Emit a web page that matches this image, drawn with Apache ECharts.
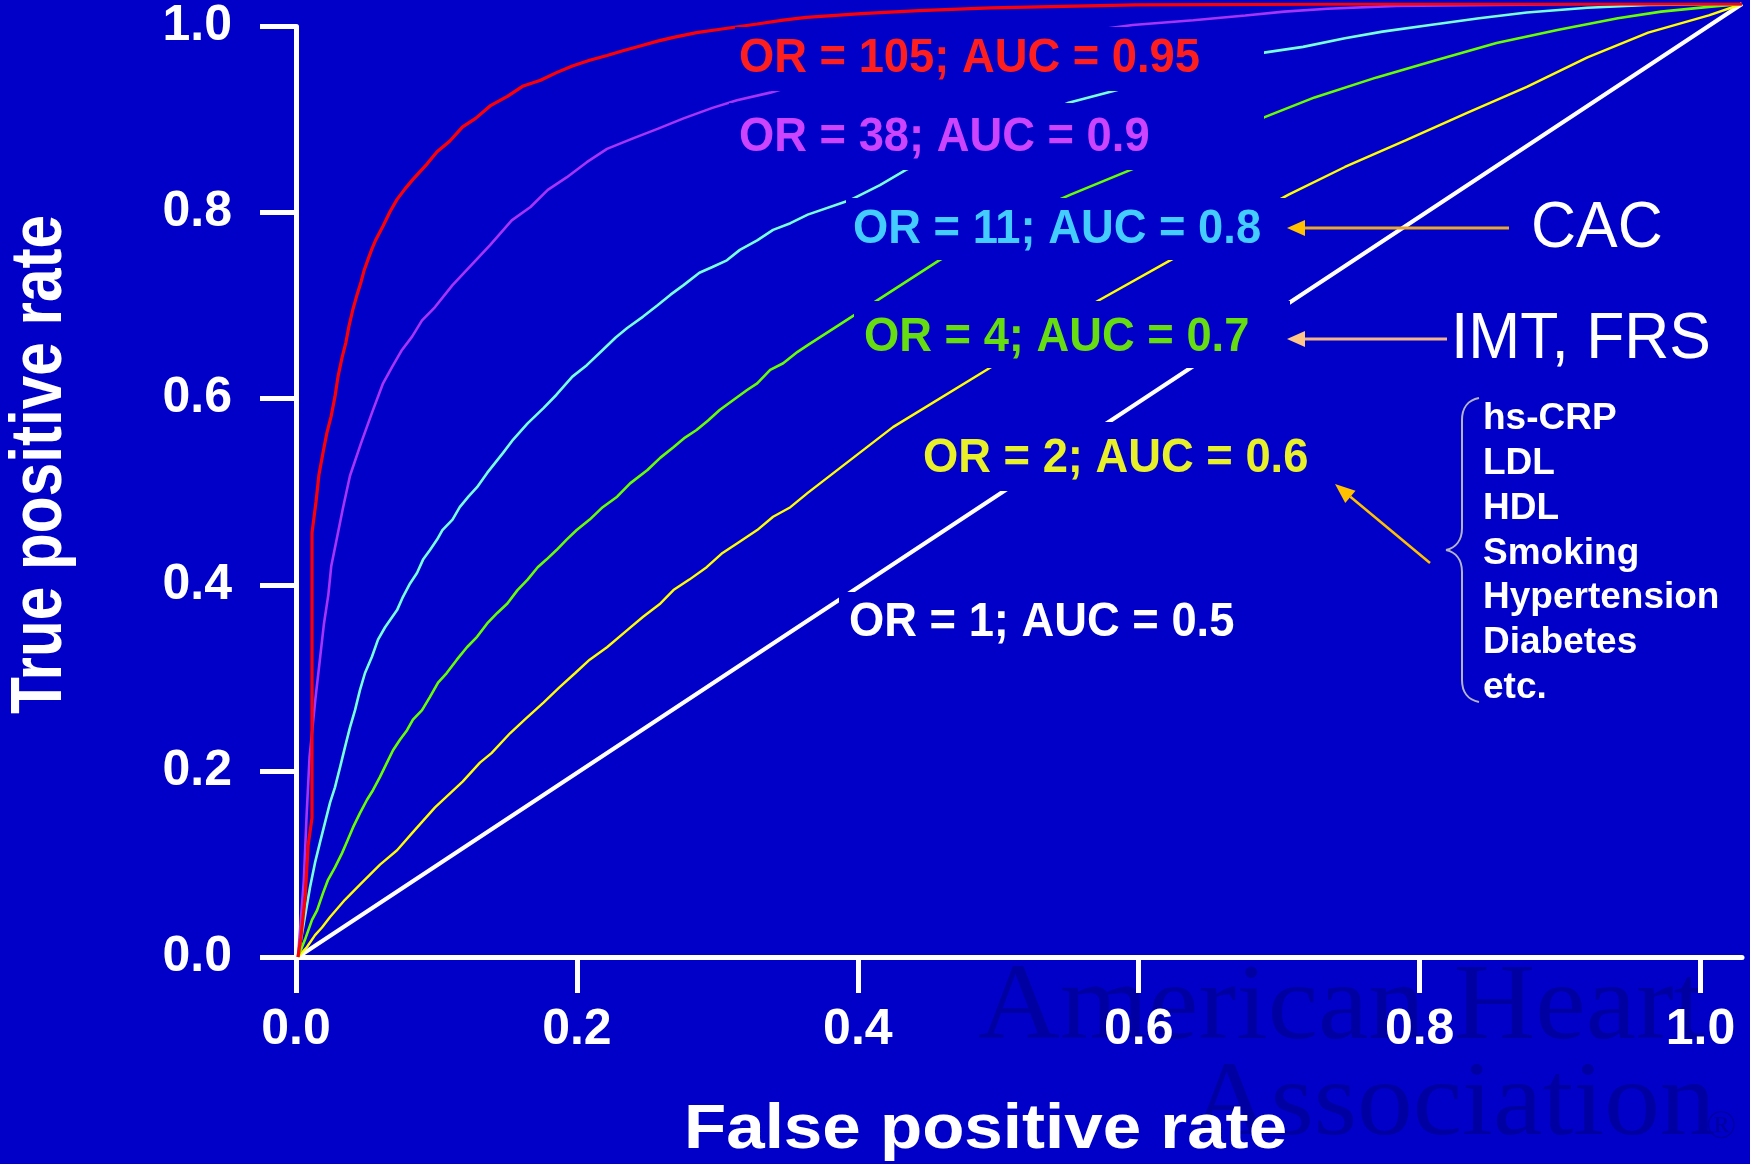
<!DOCTYPE html>
<html>
<head>
<meta charset="utf-8">
<script src="https://cdn.jsdelivr.net/npm/echarts@6/dist/echarts.min.js"></script>
<style>
  html, body { margin: 0; padding: 0; background: #0000C8; }
  #chart { width: 1750px; height: 1164px; }
</style>
</head>
<body>
<div id="chart"></div>
<script>
// Axis ticks (both axes)
const tickValues = [0, 0.2, 0.4, 0.6, 0.8, 1.0];

// ROC curves: [false positive rate, true positive rate]
const rocOR105 = [[0,0],[0.002,0.02],[0.005,0.063],[0.007,0.117],[0.0097,0.146],[0.0097,0.445],[0.0125,0.478],[0.0145,0.506],[0.0173,0.529],[0.020,0.550],[0.0229,0.567],[0.0256,0.588],[0.0277,0.609],[0.0305,0.629],[0.0332,0.645],[0.0353,0.662],[0.0381,0.680],[0.0409,0.695],[0.0436,0.708],[0.0457,0.720],[0.0485,0.732],[0.0512,0.743],[0.054,0.753],[0.0589,0.767],[0.0637,0.782],[0.0686,0.795],[0.0741,0.806],[0.0796,0.816],[0.0893,0.832],[0.0963,0.845],[0.105,0.856],[0.114,0.871],[0.123,0.880],[0.133,0.893],[0.145,0.903],[0.156,0.914],[0.168,0.920],[0.179,0.928],[0.190,0.935],[0.202,0.941],[0.214,0.946],[0.225,0.951],[0.237,0.956],[0.249,0.961],[0.260,0.965],[0.276,0.970],[0.290,0.973],[0.318,0.979],[0.336,0.983],[0.352,0.986],[0.39,0.990],[0.43,0.993],[0.48,0.996],[0.58,0.999],[0.75,1],[1,1]];

const rocOR38 = [[0,0],[0.002,0.04],[0.004,0.08],[0.006,0.15],[0.008,0.21],[0.012,0.27],[0.015,0.31],[0.018,0.35],[0.021,0.38],[0.023,0.41],[0.027,0.44],[0.031,0.47],[0.036,0.505],[0.0436,0.539],[0.0512,0.571],[0.0589,0.602],[0.0651,0.619],[0.072,0.637],[0.079,0.651],[0.0859,0.668],[0.0949,0.682],[0.107,0.705],[0.120,0.726],[0.133,0.747],[0.148,0.773],[0.161,0.787],[0.173,0.805],[0.186,0.818],[0.200,0.834],[0.214,0.848],[0.232,0.859],[0.249,0.869],[0.267,0.880],[0.287,0.891],[0.304,0.899],[0.327,0.907],[0.334,0.910],[0.40,0.935],[0.48,0.958],[0.578,0.978],[0.620,0.983],[0.656,0.988],[0.683,0.992],[0.713,0.995],[0.761,0.998],[0.90,1],[1,1]];

const rocOR11 = [[0,0],[0.0083,0.073],[0.0118,0.099],[0.0152,0.120],[0.0187,0.141],[0.0222,0.162],[0.0256,0.178],[0.0291,0.199],[0.0325,0.220],[0.036,0.241],[0.0395,0.259],[0.0429,0.280],[0.0464,0.298],[0.0512,0.315],[0.0554,0.333],[0.0603,0.346],[0.0686,0.364],[0.0727,0.378],[0.0776,0.392],[0.0824,0.403],[0.0866,0.417],[0.0914,0.427],[0.0963,0.438],[0.100,0.448],[0.107,0.459],[0.112,0.472],[0.118,0.483],[0.124,0.493],[0.131,0.508],[0.142,0.529],[0.149,0.543],[0.159,0.560],[0.170,0.576],[0.179,0.590],[0.190,0.609],[0.200,0.621],[0.211,0.637],[0.220,0.650],[0.228,0.660],[0.239,0.672],[0.249,0.684],[0.258,0.695],[0.267,0.705],[0.278,0.718],[0.287,0.724],[0.297,0.731],[0.306,0.742],[0.318,0.752],[0.329,0.763],[0.341,0.770],[0.353,0.779],[0.382,0.794],[0.403,0.810],[0.421,0.826],[0.48,0.865],[0.533,0.896],[0.568,0.910],[0.62,0.930],[0.669,0.949],[0.696,0.955],[0.725,0.964],[0.751,0.971],[0.784,0.978],[0.818,0.985],[0.851,0.991],[0.893,0.996],[0.935,0.999],[1,1]];

const rocOR4 = [[0,0],[0.0048,0.018],[0.0097,0.039],[0.0132,0.049],[0.0173,0.067],[0.0208,0.081],[0.0256,0.094],[0.0305,0.109],[0.0339,0.121],[0.0381,0.136],[0.0429,0.151],[0.0478,0.165],[0.0519,0.175],[0.0568,0.189],[0.0616,0.204],[0.0658,0.217],[0.0706,0.228],[0.0755,0.238],[0.0796,0.249],[0.0859,0.259],[0.0914,0.273],[0.097,0.288],[0.103,0.298],[0.110,0.312],[0.117,0.325],[0.124,0.336],[0.131,0.350],[0.138,0.361],[0.145,0.371],[0.152,0.385],[0.159,0.396],[0.166,0.409],[0.172,0.417],[0.179,0.427],[0.186,0.438],[0.193,0.448],[0.202,0.459],[0.211,0.472],[0.221,0.483],[0.230,0.497],[0.242,0.511],[0.251,0.524],[0.260,0.535],[0.268,0.545],[0.276,0.553],[0.284,0.563],[0.292,0.574],[0.301,0.584],[0.311,0.595],[0.318,0.602],[0.327,0.616],[0.336,0.623],[0.346,0.635],[0.353,0.642],[0.396,0.684],[0.444,0.731],[0.49,0.770],[0.535,0.800],[0.58,0.828],[0.63,0.860],[0.669,0.881],[0.704,0.902],[0.747,0.923],[0.788,0.941],[0.830,0.959],[0.873,0.973],[0.914,0.985],[0.944,0.992],[0.977,0.997],[1,1]];

const rocOR2 = [[0,0],[0.0062,0.0105],[0.0118,0.023],[0.0166,0.031],[0.0222,0.042],[0.0325,0.060],[0.0429,0.076],[0.0568,0.097],[0.0686,0.112],[0.0796,0.131],[0.0949,0.157],[0.114,0.184],[0.126,0.204],[0.134,0.214],[0.147,0.235],[0.157,0.249],[0.170,0.267],[0.181,0.283],[0.192,0.298],[0.202,0.312],[0.214,0.325],[0.228,0.343],[0.239,0.357],[0.251,0.371],[0.260,0.385],[0.271,0.396],[0.283,0.409],[0.294,0.424],[0.304,0.434],[0.318,0.448],[0.329,0.462],[0.341,0.472],[0.353,0.487],[0.412,0.556],[0.479,0.618],[0.52,0.655],[0.551,0.686],[0.604,0.731],[0.65,0.770],[0.686,0.800],[0.725,0.829],[0.767,0.857],[0.81,0.886],[0.851,0.913],[0.893,0.944],[0.935,0.970],[0.977,0.988],[1,1]];

const rocOR1 = [[0,0],[0.5,0.5],[1,1]];

// Curve captions
const curveLabels = ['OR = 105; AUC = 0.95', 'OR = 38; AUC = 0.9', 'OR = 11; AUC = 0.8', 'OR = 4; AUC = 0.7', 'OR = 2; AUC = 0.6', 'OR = 1; AUC = 0.5'];
const markerLabels = ['CAC', 'IMT, FRS'];
const riskFactors = ['hs-CRP', 'LDL', 'HDL', 'Smoking', 'Hypertension', 'Diabetes', 'etc.'];

const BG = '#0000C8';
const SANS = '"Liberation Sans", Arial, Helvetica, sans-serif';
const SERIF = '"Liberation Serif", "Times New Roman", serif';

const curveStyles = [
  { data: rocOR1,   color: '#FFFFFF', width: 4 },
  { data: rocOR2,   color: '#FFFF00', width: 2.4 },
  { data: rocOR4,   color: '#66FF00', width: 2.6 },
  { data: rocOR11,  color: '#77FFDD', width: 2.6 },
  { data: rocOR38,  color: '#A633F5', width: 2.6 },
  { data: rocOR105, color: '#FF0000', width: 3.2 }
];
const curveNames = curveLabels.slice().reverse();

// caption boxes: text position, colour and the backing box that masks the curves
const captionLayout = [
  { x: 739, y: 58,  color: '#FF1E1E', box: [735, 27, 529, 64] },
  { x: 739, y: 137, color: '#CC44FF', box: [729, 103, 535, 67] },
  { x: 853, y: 229, color: '#44CCFF', box: [846, 198, 439, 62] },
  { x: 864, y: 337, color: '#66DD11', box: [854, 301, 436, 67] },
  { x: 923, y: 458, color: '#E8F02A', box: [913, 422, 402, 69] },
  { x: 849, y: 622, color: '#FFFFFF', box: [839, 592, 405, 62] }
];

const graphics = [];

function label(text, x, y, font, fill, extra) {
  return Object.assign({ type: 'text', x: x, y: y, z: 70, silent: true,
    style: { text: text, font: font, fill: fill,
      textAlign: 'left', textVerticalAlign: 'middle', align: 'left', verticalAlign: 'middle' } }, extra || {});
}

// watermark
const WM = '#0000A2';
graphics.push(label('American Heart', 978, 1010, '108px ' + SERIF, WM, { scaleX: 1.05, z: -10 }));
graphics.push(label('Association', 1190, 1106, '106px ' + SERIF, WM, { scaleX: 1.05, z: -10 }));
graphics.push(label('®', 1706, 1127, '40px ' + SERIF, WM, { z: -10 }));

// curve captions with masking boxes
curveLabels.forEach((text, i) => {
  const L = captionLayout[i];
  graphics.push({ type: 'rect', z: 50, silent: true,
    shape: { x: L.box[0], y: L.box[1], width: L.box[2], height: L.box[3] },
    style: { fill: BG } });
  graphics.push(label(text, L.x, L.y, 'bold 49px ' + SANS, L.color, { scaleX: 0.925, z: 60 }));
});

// arrows
function arrow(x1, y1, x2, y2, lineColor, headColor, lw, headLen, headHalf) {
  const ang = Math.atan2(y2 - y1, x2 - x1);
  const bx = x2 - headLen * Math.cos(ang), by = y2 - headLen * Math.sin(ang);
  const px = -Math.sin(ang) * headHalf, py = Math.cos(ang) * headHalf;
  graphics.push({ type: 'line', z: 70, silent: true,
    shape: { x1: x1, y1: y1, x2: bx, y2: by },
    style: { stroke: lineColor, lineWidth: lw } });
  graphics.push({ type: 'polygon', z: 71, silent: true,
    shape: { points: [[x2, y2], [bx + px, by + py], [bx - px, by - py]] },
    style: { fill: headColor } });
}
arrow(1509, 228, 1287, 228, '#E8A830', '#FFC000', 3, 18, 8);
arrow(1447, 339, 1287, 339, '#F4B48A', '#FFC488', 3, 18, 8);
arrow(1430, 563, 1335, 484, '#FFC000', '#FFC000', 2.5, 20, 8);

// marker labels
graphics.push(label(markerLabels[0], 1531, 229, '65px ' + SANS, '#FFFFFF', { scaleX: 0.96 }));
graphics.push(label(markerLabels[1], 1451, 340, '64px ' + SANS, '#FFFFFF', { scaleX: 0.975 }));

// brace grouping the risk factors
const braceStyle = { stroke: '#B4B4C8', lineWidth: 2, fill: null };
graphics.push({ type: 'bezierCurve', z: 70, silent: true, shape: { x1: 1479, y1: 398, cpx1: 1468, cpy1: 400, cpx2: 1462, cpy2: 408, x2: 1462, y2: 420 }, style: braceStyle });
graphics.push({ type: 'line', z: 70, silent: true, shape: { x1: 1462, y1: 420, x2: 1462, y2: 528 }, style: braceStyle });
graphics.push({ type: 'bezierCurve', z: 70, silent: true, shape: { x1: 1462, y1: 528, cpx1: 1462, cpy1: 541, cpx2: 1455, cpy2: 548, x2: 1446, y2: 550 }, style: braceStyle });
graphics.push({ type: 'bezierCurve', z: 70, silent: true, shape: { x1: 1446, y1: 550, cpx1: 1455, cpy1: 552, cpx2: 1462, cpy2: 559, x2: 1462, y2: 572 }, style: braceStyle });
graphics.push({ type: 'line', z: 70, silent: true, shape: { x1: 1462, y1: 572, x2: 1462, y2: 680 }, style: braceStyle });
graphics.push({ type: 'bezierCurve', z: 70, silent: true, shape: { x1: 1462, y1: 680, cpx1: 1462, cpy1: 692, cpx2: 1468, cpy2: 700, x2: 1479, y2: 702 }, style: braceStyle });

riskFactors.forEach((name, i) => {
  graphics.push(label(name, 1483, 419 + i * 44.8, 'bold 37px ' + SANS, '#FFFFFF'));
});

// axis titles
graphics.push(label('False positive rate', 684, 1131, 'bold 63px ' + SANS, '#FFFFFF', { scaleX: 1.097 }));
graphics.push(label('True positive rate', 41, 714, 'bold 72px ' + SANS, '#FFFFFF', { rotation: Math.PI / 2, scaleX: 0.837 }));

const axisCommon = {
  axisLine: { show: true, lineStyle: { color: '#FFFFFF', width: 5 } },
  axisTick: { show: true, inside: false, length: 36, lineStyle: { color: '#FFFFFF', width: 5 } },
  splitLine: { show: false }
};

const chart = echarts.init(document.getElementById('chart'), null, { renderer: 'canvas' });
chart.setOption({
  backgroundColor: BG,
  animation: false,
  grid: [
    { left: 296, top: 26.5, width: 1446, height: 930.5, outerBoundsMode: 'none' },
    { left: 298, top: 4, width: 1444, height: 953, outerBoundsMode: 'none' }
  ],
  xAxis: [
    Object.assign({}, axisCommon, {
      type: 'value', gridIndex: 0, min: 0, max: 1.0295,
      axisTick: Object.assign({}, axisCommon.axisTick, { customValues: tickValues }),
      axisLabel: { customValues: tickValues, margin: 48, color: '#FFFFFF', fontSize: 50, fontWeight: 'bold', fontFamily: SANS,
        formatter: v => v.toFixed(1) }
    }),
    { type: 'value', gridIndex: 1, min: 0, max: 1, show: false }
  ],
  yAxis: [
    Object.assign({}, axisCommon, {
      type: 'value', gridIndex: 0, min: 0, max: 1, interval: 0.2,
      axisLabel: { margin: 64, color: '#FFFFFF', fontSize: 50, fontWeight: 'bold', fontFamily: SANS,
        formatter: v => v.toFixed(1) }
    }),
    { type: 'value', gridIndex: 1, min: 0, max: 1, show: false }
  ],
  graphic: { elements: graphics },
  series: curveStyles.map((c, i) => ({
    type: 'line',
    name: curveNames[i],
    xAxisIndex: 1,
    yAxisIndex: 1,
    data: c.data,
    showSymbol: false,
    symbol: 'none',
    smooth: false,
    silent: true,
    z: 3 + i,
    lineStyle: { color: c.color, width: c.width }
  }))
});
</script>
</body>
</html>
